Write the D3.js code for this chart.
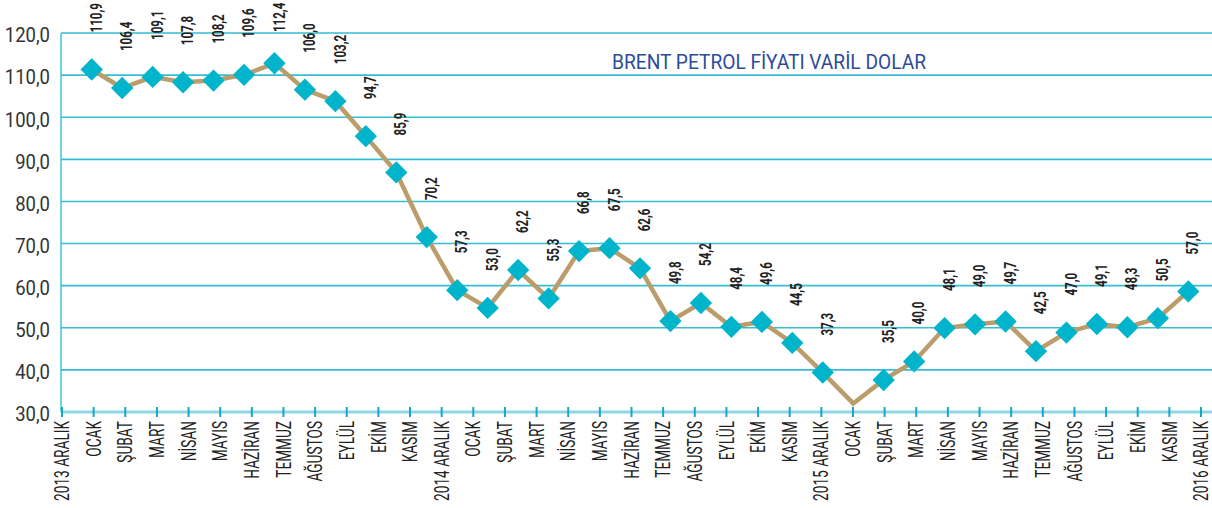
<!DOCTYPE html>
<html><head><meta charset="utf-8">
<script src="https://cdn.jsdelivr.net/npm/d3@7"></script>
<style>body{margin:0;background:#fff}svg{display:block}</style>
</head><body><svg id="c" width="1212" height="508"></svg>
<script>
const categories = ["2013 ARALIK","OCAK","ŞUBAT","MART","NİSAN","MAYIS","HAZİRAN","TEMMUZ","AĞUSTOS","EYLÜL","EKİM","KASIM",
  "2014 ARALIK","OCAK","ŞUBAT","MART","NİSAN","MAYIS","HAZİRAN","TEMMUZ","AĞUSTOS","EYLÜL","EKİM","KASIM",
  "2015 ARALIK","OCAK","ŞUBAT","MART","NİSAN","MAYIS","HAZİRAN","TEMMUZ","AĞUSTOS","EYLÜL","EKİM","KASIM","2016 ARALIK"];
const values = [110.9,106.4,109.1,107.8,108.2,109.6,112.4,106.0,103.2,94.7,85.9,70.2,
  57.3,53.0,62.2,55.3,66.8,67.5,62.6,49.8,54.2,48.4,49.6,44.5,
  37.3,29.8,35.5,40.0,48.1,49.0,49.7,42.5,47.0,49.1,48.3,50.5,57.0];
const unlabeled = [25];
const yTicks = [30,40,50,60,70,80,90,100,110,120];
const title = "BRENT PETROL FİYATI VARİL DOLAR";

const svg = d3.select("#c");
const idx = d3.range(categories.length);
const fmt = v => d3.format(".1f")(v).replace(".", ",");

// axis / grid scales
const xAxisScale = d3.scalePoint().domain(idx).range([62, 1201]);
const yAxisScale = d3.scaleLinear().domain([30, 120]).range([412, 33]);
// plotted series scales (series layer sits slightly inset in the reference)
const xData = d3.scalePoint().domain(idx).range([91.7, 1188.3]);
const yData = d3.scaleLinear().domain([30, 120]).range([402.6, 32]);

// gridlines
svg.append("g").selectAll("line").data(yTicks.filter(t => t > 30)).join("line")
  .attr("x1", 61).attr("x2", 1212)
  .attr("y1", d => yAxisScale(d)).attr("y2", d => yAxisScale(d))
  .attr("stroke", "#35bdd3").attr("stroke-width", 1.6);

// left axis line
svg.append("line").attr("x1", 61).attr("x2", 61)
  .attr("y1", yAxisScale(120)).attr("y2", yAxisScale(30))
  .attr("stroke", "#3cc4d6").attr("stroke-width", 1.5);

// bottom axis
svg.append("line").attr("x1", 61).attr("x2", 1212)
  .attr("y1", yAxisScale(30)).attr("y2", yAxisScale(30))
  .attr("stroke", "#8fd7e5").attr("stroke-width", 3);
svg.append("g").selectAll("line").data(idx).join("line")
  .attr("x1", d => xAxisScale(d)).attr("x2", d => xAxisScale(d))
  .attr("y1", yAxisScale(30) - 5).attr("y2", yAxisScale(30) + 5)
  .attr("stroke", "#17a7c4").attr("stroke-width", 2);

// y tick labels
svg.append("g").selectAll("text").data(yTicks).join("text")
  .attr("transform", d => `translate(50,${yAxisScale(d) + 2}) scale(0.88,1)`)
  .attr("text-anchor", "end").attr("dy", "0.35em")
  .attr("font-family", "Roboto").attr("font-size", 21).attr("fill", "#333")
  .text(d => d3.format(".1f")(d).replace(".", ","));

// x tick labels
svg.append("g").selectAll("text").data(idx).join("text")
  .attr("transform", d => `translate(${xAxisScale(d)},421) rotate(-90) scale(0.65,1)`)
  .attr("text-anchor", "end").attr("dy", "0.34em")
  .attr("font-family", "Roboto").attr("font-size", 21).attr("fill", "#222")
  .text(d => categories[d]);

// title
svg.append("text").attr("x", 612).attr("y", 69)
  .attr("font-family", "Roboto").attr("font-size", 21).attr("fill", "#2d4b9b")
  .attr("textLength", 314).attr("lengthAdjust", "spacingAndGlyphs")
  .text(title);

// line
const line = d3.line().x(d => xData(d)).y(d => yData(values[d]));
svg.append("path").datum(idx).attr("d", line)
  .attr("fill", "none").attr("stroke", "#bb9d6c").attr("stroke-width", 4.5)
  .attr("stroke-linejoin", "miter");

// markers
const shown = idx.filter(i => !unlabeled.includes(i));
const sym = d3.symbol().type(d3.symbolSquare).size(250);
svg.append("g").selectAll("path").data(shown).join("path")
  .attr("d", sym)
  .attr("transform", d => `translate(${xData(d)},${yData(values[d])}) rotate(45)`)
  .attr("fill", "#00b4cc");

// data labels
svg.append("g").selectAll("text").data(shown).join("text")
  .attr("transform", d => `translate(${xData(d) + 4},${Math.max(yData(values[d]) - 37, 32)}) rotate(-90) scale(0.68,1)`)
  .attr("text-anchor", "start").attr("dy", "0.36em")
  .attr("font-family", "Roboto").attr("font-weight", "bold").attr("font-size", 17).attr("fill", "#222")
  .text(d => fmt(values[d]));
</script></body></html>
